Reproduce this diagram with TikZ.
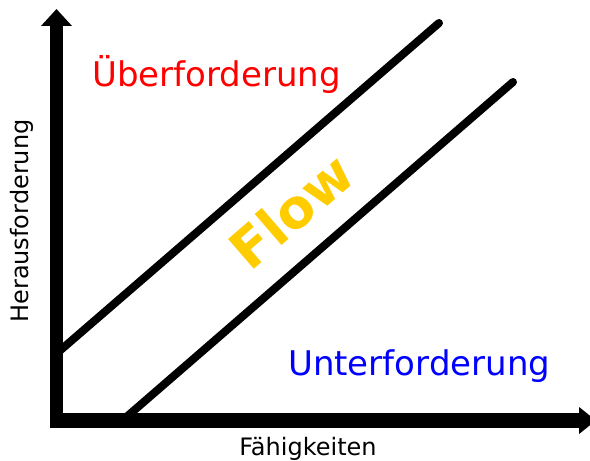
\documentclass[tikz,border=0pt]{standalone}
\usepackage{fontspec}
\setmainfont{DejaVu Sans}
\usetikzlibrary{arrows.meta}
\definecolor{flowgold}{HTML}{FFCC00}
\definecolor{ured}{HTML}{FF0000}
\definecolor{ublue}{HTML}{0000FF}
\tikzset{
  axis/.style={line width=#1, -{Triangle[width=30pt,length=17pt]}},
  diag/.style={line width=8pt, line cap=round},
  lbl/.style={inner sep=0pt, font=\fontsize{24pt}{28pt}\selectfont},
  zone/.style={inner sep=0pt, anchor=base west, font=\fontsize{34pt}{40pt}\selectfont},
}
\begin{document}
\begin{tikzpicture}[x=1pt,y=1pt]
\useasboundingbox (0,0) rectangle (590,461);
% coordinates
\coordinate (d1a) at (56.5,107.4);
\coordinate (d1b) at (439,438);
\coordinate (d2a) at (121.8,40);
\coordinate (d2b) at (513,379);
\coordinate (o1) at (56.5,33);
\coordinate (ytip) at (56.5,452);
\coordinate (o2) at (50,40.5);
\coordinate (xtip) at (596,40.5);
% diagonals
\draw[diag] (d1a) -- (d1b);
\draw[diag] (d2a) -- (d2b);
% axes
\draw[axis=13pt] (o1) -- (ytip);
\draw[line width=15pt, -{Triangle[width=26pt,length=17pt]}] (o2) -- (xtip);
% labels
\node[zone, text=ured] (ueber) at (92,374) {Überforderung};
\node[zone, text=ublue] (unter) at (288,85) {Unterforderung};
\node[lbl, anchor=base, rotate=90] (ylab) at (28,240) {Herausforderung};
\node[lbl, anchor=base] (xlab) at (308,5) {Fähigkeiten};
\node[inner sep=0pt, rotate=40.84, text=flowgold,
      font=\fontsize{54pt}{60pt}\selectfont\bfseries] (flow) at (291,250) {Flow};
\end{tikzpicture}
\end{document}
